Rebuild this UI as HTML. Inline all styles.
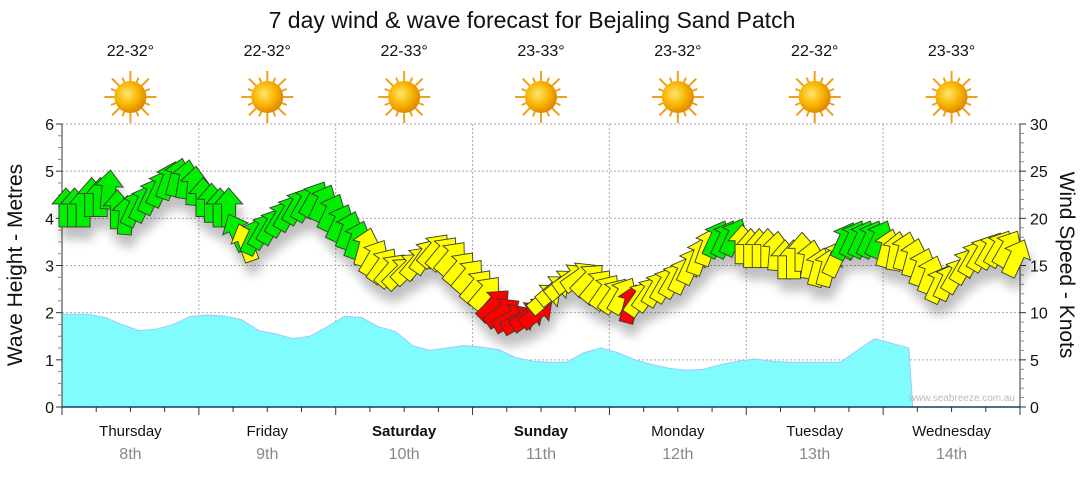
<!DOCTYPE html>
<html><head><meta charset="utf-8"><style>
body{margin:0;background:#fff;font-family:"Liberation Sans",sans-serif}
svg text{font-family:"Liberation Sans",sans-serif}
</style></head><body>
<svg id="chart" width="1080" height="475" viewBox="0 0 1080 475" xmlns="http://www.w3.org/2000/svg">
<defs>
<filter id="sh" x="-50%" y="-50%" width="200%" height="200%"><feGaussianBlur in="SourceAlpha" stdDeviation="5"/><feOffset dx="3" dy="12"/><feComponentTransfer><feFuncA type="linear" slope="0.25"/></feComponentTransfer><feMerge><feMergeNode/><feMergeNode in="SourceGraphic"/></feMerge></filter>
<radialGradient id="sun" cx="40%" cy="40%" r="60%"><stop offset="0" stop-color="#ffe66a"/><stop offset="0.6" stop-color="#f8b400"/><stop offset="1" stop-color="#e08a00"/></radialGradient>
</defs>
<text x="532" y="28" font-size="23" text-anchor="middle" fill="#111">7 day wind &amp; wave forecast for Bejaling Sand Patch</text>
<g id="topg"></g>
<g id="gridg"></g>
<g id="wavesg"></g>
<g id="axesg"></g>
<g id="arrowsg" filter="url(#sh)"></g>
<text x="1015" y="401" font-size="10" text-anchor="end" fill="#bbb">www.seabreeze.com.au</text>
<text transform="translate(22,265) rotate(-90)" font-size="21" text-anchor="middle" fill="#111">Wave Height - Metres</text>
<text transform="translate(1060,265) rotate(90)" font-size="21" text-anchor="middle" fill="#111">Wind Speed - Knots</text>
</svg>
<script>
const days=["Thursday","Friday","Saturday","Sunday","Monday","Tuesday","Wednesday"];
const dates=["8th","9th","10th","11th","12th","13th","14th"];
const temps=["22-32°","22-32°","22-33°","23-33°","23-32°","22-32°","23-33°"];
const waveHeights=[1.97,1.97,1.9,1.75,1.62,1.65,1.75,1.92,1.95,1.93,1.85,1.62,1.55,1.45,1.5,1.7,1.92,1.9,1.7,1.6,1.3,1.2,1.25,1.3,1.27,1.22,1.05,0.97,0.95,0.95,1.15,1.25,1.15,1.0,0.9,0.82,0.78,0.8,0.9,0.97,1.02,0.97,0.95,0.95,0.95,0.95,1.2,1.45,1.35,1.25,0,0,0,0,0,0];
const windSpeeds=[21.1,21.1,21.1,22.2,22.2,23.0,20.9,20.3,21.1,21.6,22.4,23.2,24.0,24.3,24.1,23.4,
22.2,21.6,21.1,21.1,18.5,17.4,18.1,18.7,19.2,20.0,20.6,21.3,21.6,22.0,21.6,20.6,
19.5,18.7,17.7,16.9,15.8,15.0,14.5,14.2,14.7,15.3,16.0,16.6,16.3,15.8,14.7,13.9,
12.8,12.1,
10.8,10.0,9.4,9.2,9.6,10.0,
11.5,12.4,13.0,13.6,13.8,13.5,12.8,12.2,11.8,11.8,
10.9,11.5,12.0,12.6,13.0,13.5,14.0,15.0,16.0,17.0,
17.8,17.8,18.0,17.2,16.8,16.8,16.8,16.5,15.6,
15.6,16.4,15.6,14.8,14.8,15.8,17.6,17.8,17.8,17.8,
17.8,16.8,16.5,16.5,15.8,14.8,14.0,13.0,13.3,
14.0,15.0,15.8,16.3,16.6,16.8,16.8,15.8];
const windDirs=[0,0,0,0,0,5,0,5,25,25,25,25,20,15,10,5,
0,0,0,0,-25,-20,25,30,30,30,30,30,30,30,25,25,
25,20,20,15,30,35,40,45,45,40,35,40,40,40,40,40,
40,40,
45,55,60,60,55,50,
50,50,50,55,55,45,40,35,35,30,
15,35,35,30,30,30,25,25,20,20,
25,25,25,0,0,0,0,5,0,
0,0,10,15,15,25,25,25,25,25,
25,15,10,15,15,20,20,25,25,
30,30,30,30,30,30,30,25];
(function(){
const ns="http://www.w3.org/2000/svg";
const L=62,R=1020,T=124,B=407,N=56,DW=(R-L)/7;
const xOf=i=>L+(i+0.5)*(R-L)/N;
const xA=i=>L+4+i*(R-L-8)/(windSpeeds.length-1);
const yW=v=>B-(B-T)*v/6;
const yK=v=>B-(B-T)*v/30;
function mk(tag,attrs,parent){const e=document.createElementNS(ns,tag);for(const k in attrs)e.setAttribute(k,attrs[k]);parent.appendChild(e);return e;}
const topG=document.getElementById('topg'),gridG=document.getElementById('gridg'),axesG=document.getElementById('axesg'),wvG=document.getElementById('wavesg'),arG=document.getElementById('arrowsg');
days.forEach((d,i)=>{
 const cx=L+DW*(i+0.5);
 let t=mk('text',{x:cx,y:56,'font-size':16,'text-anchor':'middle',fill:'#111'},topG);t.textContent=temps[i];
 
 
 const g=mk('g',{},topG);
 
 
 for(let k=0;k<16;k++){const a=k*Math.PI/8,r2=k%2?21:26;mk('line',{x1:cx+Math.cos(a)*15,y1:97+Math.sin(a)*15,x2:cx+Math.cos(a)*r2,y2:97+Math.sin(a)*r2,stroke:'#f0a020','stroke-width':2},g);}
 mk('circle',{cx:cx,cy:97,r:16,fill:'url(#sun)'},g);
 t=mk('text',{x:cx,y:436,'font-size':15,'text-anchor':'middle',fill:'#111','font-weight':(i==2||i==3)?'bold':'normal'},axesG);t.textContent=d;
 
 
 t=mk('text',{x:cx,y:459,'font-size':16,'text-anchor':'middle',fill:'#888'},axesG);t.textContent=dates[i];
 
 
});
for(let v=1;v<=6;v++)mk('line',{x1:L,x2:R,y1:yW(v),y2:yW(v),stroke:'#aaa','stroke-dasharray':'2,2'},gridG);
for(let i=1;i<=7;i++)mk('line',{x1:L+DW*i,x2:L+DW*i,y1:T,y2:B,stroke:'#aaa','stroke-dasharray':'2,2'},gridG);
let pts=[`${L},${B}`];
waveHeights.forEach((h,i)=>{let x=i==0?L:xOf(i);if(h===0&&waveHeights[i-1]>0)x=xOf(i-1)+4;pts.push(`${x},${yW(h)}`);});
pts.push(`${R},${B}`);
const area=mk('polygon',{points:pts.join(' '),fill:'#80fcff',stroke:'#a0c8ff','stroke-width':1},wvG);


mk('line',{x1:L,x2:L,y1:T,y2:B,stroke:'#333'},axesG);
mk('line',{x1:R,x2:R,y1:T,y2:B,stroke:'#333'},axesG);
mk('line',{x1:L,x2:R,y1:B,y2:B,stroke:'#1a3a6a','stroke-width':1.5},axesG);
for(let k=0;k<=24;k++){const y=yW(k/4);mk('line',{x1:L-(k%4?4:6),x2:L,y1:y,y2:y,stroke:k%4?'#888':'#333'},axesG);}
for(let v=0;v<=6;v++){const t=mk('text',{x:L-8,y:yW(v)+6,'font-size':16,'text-anchor':'end',fill:'#111'},axesG);t.textContent=v;
 
 }
for(let k=0;k<=30;k++){const y=yK(k);mk('line',{x1:R,x2:R+(k%5?4:6),y1:y,y2:y,stroke:k%5?'#888':'#333'},axesG);}
for(let v=0;v<=30;v+=5){const t=mk('text',{x:R+10,y:yK(v)+6,'font-size':16,fill:'#111'},axesG);t.textContent=v;
 
 }
for(let k=0;k<=28;k++){const x=L+k*DW/4;mk('line',{x1:x,x2:x,y1:B,y2:B+(k%4?5:8),stroke:'#333'},axesG);}
const shape="M0,-20 L14,-4 L7,-4 L7,19 L-7,19 L-7,-4 L-14,-4 Z";
windSpeeds.forEach((s,i)=>{
 const col=s>=17.5?'#00ee00':(s>=11?'#ffff00':'#ff0000');
 const p=mk('path',{d:shape,fill:col,stroke:'#3a3a2a','stroke-width':0.9,transform:`translate(${xA(i)},${yK(s)}) rotate(${windDirs[i]})`},arG);
 
 
});
})();
</script>
</body></html>
